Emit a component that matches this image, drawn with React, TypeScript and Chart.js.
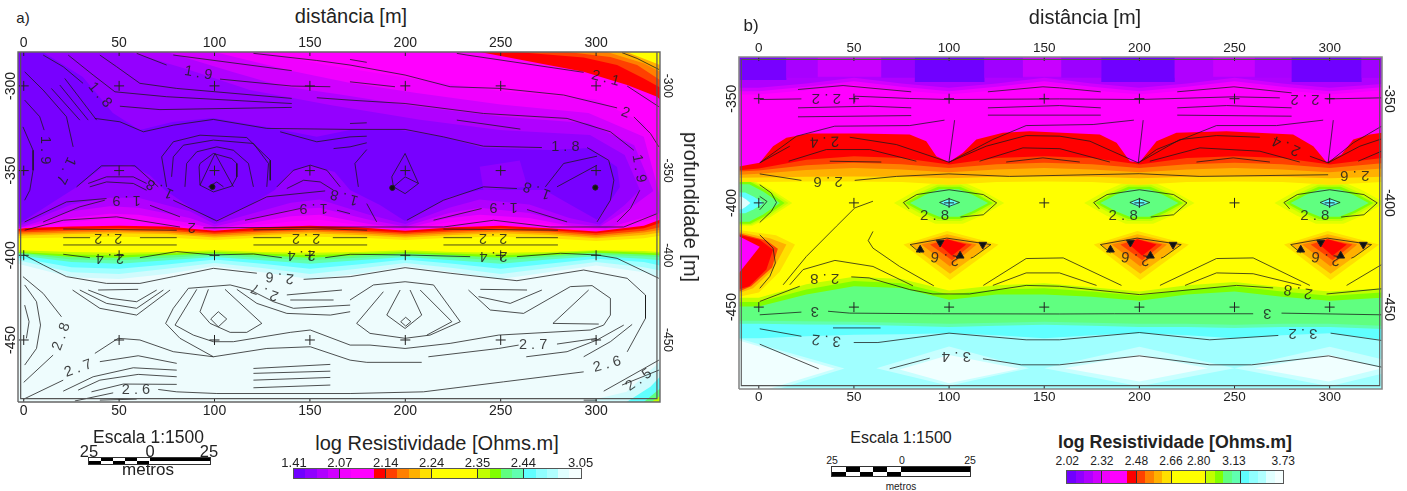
import React, { useEffect, useRef } from "react";
import { Chart, registerables } from "chart.js";
Chart.register(...registerables);

type P = number[];
const FONT = "'Liberation Sans', Arial, sans-serif";
const tickX = [0, 50, 100, 150, 200, 250, 300];

// ---------- shared colour scale ----------
const legendColors = ["#7000ff","#9000ff","#b000ff","#d000ff","#f000ff","#ff00ff","#ff00ff","#ff0000","#ff4000","#ff8000","#ffb000","#ffe000","#ffff00","#ffff00","#ffff00","#ffff00","#c0ff00","#80ff00","#60ff80","#60ffb0","#60ffff","#90ffff","#b0ffff","#e0ffff","#f5ffff"];
const legendLabelsA = ["1.41","2.07","2.14","2.24","2.35","2.44","3.05"];
const legendLabelsB = ["2.02","2.32","2.48","2.66","2.80","3.13","3.73"];

// ---------- panel a ----------
const rangeA = { xMin: -3, xMax: 333.5, yMin: -486.6, yMax: -280 };
const depthTicksA = [-300, -350, -400, -450];
const stationsA = [-3,25,50,75,100,125,150,175,200,225,250,275,300,325,333.5];
const bandD0 = [-405,-413,-414,-411,-406.5,-410,-414,-411,-406.5,-410,-414,-410,-406,-410,-413];
const bandA0 = [-403,-410,-411,-408,-404.5,-407.5,-411,-408,-404.5,-407.5,-411,-407.5,-404,-407,-409];
const bandCy = [-401.5,-407,-408,-405.5,-402.5,-405,-408,-405.5,-402.5,-405,-408,-405,-402,-404,-406];
const bandB0 = [-400,-404,-405,-403,-401,-403,-405,-403,-401,-403,-405,-402.5,-400.5,-402,-403];
const band80 = [-399,-402.5,-403,-401.5,-400,-401.5,-403,-401.5,-400,-401.5,-403,-401,-399.5,-400.5,-401];
const bandLi = [-398.5,-401,-401.5,-400,-399,-400,-401.5,-400,-399,-400,-401.5,-400,-398.5,-399.5,-400];
const bandC0 = [-398,-399.5,-400,-399,-398,-399,-400,-399,-398,-399,-400,-399,-397.5,-398.5,-399];
const bandYe = [-397,-398,-398.5,-398,-397,-398,-398.5,-398,-397,-398,-398.5,-398,-397,-397.5,-398];
const bandFE = [-390,-389.5,-389,-389.5,-391,-389.5,-389,-389.5,-391,-389.5,-389,-390,-391.5,-390,-388.5];
const bandFB = [-388.5,-387.5,-387,-387.5,-389.5,-388,-387,-388,-389.5,-388,-387,-388,-390,-388,-386.5];
const bandF8 = [-387.5,-386.5,-386,-386.5,-388.5,-387,-386,-387,-388.5,-387,-386,-387,-389,-386.5,-385];
const bandF4 = [-386.5,-385.5,-385,-385.5,-387.5,-386,-385,-386,-387.5,-386,-385,-386,-388,-385.5,-383.5];
const bandRe = [-385.5,-384.5,-384,-384.5,-386.5,-385,-384,-385,-386.5,-385,-384,-385,-387,-384,-381];
const bandMa = [-384,-383,-382.5,-383,-385.5,-383.5,-382.5,-383.5,-385.5,-383.5,-382.5,-384,-386,-382.5,-379];
const purpleF0: P[] = [[-3,-280],[125,-280],[160,-288],[205,-296],[250,-303],[300,-308],[325,-322],[333.5,-340],[333.5,-378],[305,-385],[286,-383],[265,-380.5],[239,-379],[223,-380.5],[200,-385],[181,-383],[155,-379],[140,-380],[100,-385],[87,-383],[60,-379],[45,-378.5],[25,-380.5],[-3,-384.5]];
const purpleD0: P[] = [[-3,-280],[100,-280],[140,-291],[170,-298],[205,-304],[250,-311],[296,-316],[325,-330],[333.5,-365],[333.5,-375],[305,-384],[286,-382.5],[265,-378],[239,-376],[223,-378],[200,-384],[181,-381.5],[155,-376],[140,-377],[100,-384.5],[87,-381],[60,-376],[45,-375.5],[25,-378],[-3,-384]];
const purpleB0: P[] = [[-3,-280],[75,-280],[110,-292],[135,-300],[165,-305],[205,-312],[250,-318],[296,-322],[320,-335],[330,-362],[318,-372],[302,-383],[286,-381],[265,-375],[239,-372],[223,-375],[200,-383],[181,-379],[155,-372],[140,-373],[100,-383],[87,-378],[60,-372],[45,-371],[25,-374],[-3,-384]];
const purple94: P[] = [[-3,-280],[55.6,-280],[87,-290.6],[118.5,-302.4],[160.5,-311.3],[207.7,-320],[249.6,-326],[296.8,-329],[315,-340.8],[323,-361.4],[315,-370.3],[302,-382],[286,-378],[265,-370],[239,-367],[223,-372],[200,-381.5],[181,-376],[155,-367],[140,-369],[100,-381.5],[87,-374],[60,-366],[45,-366],[25,-370],[-3,-383]];
const purple78: P[] = [[-3,-280],[10,-280],[31,-294.8],[46.7,-316],[60.8,-326],[78,-321.3],[99,-319],[127.4,-324.3],[153.6,-330],[171,-326],[197,-326],[219.7,-330],[240.7,-336.6],[275.8,-337.8],[296.8,-336.6],[311,-347.9],[312.5,-359.7],[300.5,-379],[286.3,-370],[273,-361.4],[239,-361.4],[223.4,-365.6],[199.8,-379.7],[186.7,-370.3],[171,-361.4],[163,-350.8],[150,-346.7],[139.5,-350.8],[131.6,-361.4],[118.5,-370.3],[99.6,-379.7],[87,-371.5],[74,-361.4],[66,-352.6],[55.6,-346.7],[41.4,-347.9],[27.8,-359.7],[-.5,-380],[-3,-382]];
const patchA: P[] = [[239,-347.7],[260,-344],[264,-359.6],[241,-361.6]];
const cornerTR: { c: string; p: P[] }[] = [
  { c: "#ff0000", p: [[239,-280],[293.5,-291.7],[316.3,-299.5],[332,-306.4],[333.5,-308],[333.5,-280]] },
  { c: "#ff4000", p: [[258.5,-280],[293.5,-283.2],[311,-287.7],[325,-295.6],[333.5,-301],[333.5,-280]] },
  { c: "#ff8000", p: [[285,-280],[307.5,-283],[321.5,-287.7],[333.5,-296.6],[333.5,-280]] },
  { c: "#ffb000", p: [[305.7,-280],[325,-286.7],[333.5,-291.6],[333.5,-280]] },
  { c: "#ffff00", p: [[316,-280],[333.5,-287.7],[333.5,-280]] },
];
const cornerBR: { c: string; p: P[] }[] = [
  { c: "#d0fbfd", p: [[293.5,-486.6],[316,-480.6],[333.5,-462.8],[333.5,-486.6]] },
  { c: "#60ffff", p: [[316,-486.6],[328.5,-477.6],[333.5,-471.7],[333.5,-486.6]] },
  { c: "#60ff80", p: [[325,-486.6],[333.5,-478.6],[333.5,-486.6]] },
  { c: "#c0ff00", p: [[329,-486.6],[333.5,-483],[333.5,-486.6]] },
];
const contoursA: P[][] = [
  [[.5,-291.7],[10.2,-302.5],[22.4,-318.2],[25.9,-336]],
  [[.5,-308.4],[8.4,-318.2],[10.7,-326.1]],
  [[-.4,-324.2],[4.9,-338],[4.9,-349.8],[3.2,-361.6],[.5,-367.5]],
  [[14.5,-301.5],[29.4,-320.2]],[[18.9,-299.5],[33.8,-320.2]],[[21.5,-295.6],[38.2,-320.2]],
  [[10.2,-281.8],[20.7,-288.7],[31.1,-298.5]],
  [[102.9,-296],[140.5,-300.1],[160.7,-300.5]],
  [[39.9,-281.8],[48.7,-288.7],[60.9,-298.5],[80.2,-301.5],[140.5,-307.4]],
  [[23.3,-281.8],[36.4,-293.6],[47.8,-303.5],[74.9,-306.4],[140.5,-310.4]],
  [[50.4,-312],[71.4,-314],[140.5,-312.7]],
  [[37.3,-319.2],[50.4,-321.2],[62.7,-327.1],[78.4,-323.2],[99.4,-319.8],[127.4,-325.1],[171,-325.7],[199.9,-325.7],[220,-330.1],[241,-335.6],[271.6,-336.4]],
  [[295.3,-336.4],[306.6,-343.9],[309.3,-355.7],[307.5,-367.5],[300.5,-380.3]],
  [[59.2,-280.8],[74.9,-287.7]],[[78.4,-281.8],[140.5,-291]],
  [[120.4,-280.8],[153.6,-285],[171,-287.7],[199.9,-293.6],[223.5,-300.5],[249.8,-301.5],[283,-305.4],[311,-313]],
  [[319.8,-318.3],[328.5,-328.1],[332.9,-336]],
  [[171,-297.6],[194.6,-300.5]],[[171,-284.4],[179.8,-286.1]],
  [[153.6,-307],[171,-308.4],[199.9,-310.4],[241,-316.3],[284.8,-319.2],[307.5,-327.1],[319.8,-338]],
  [[322.9,-361.6],[318,-372.4],[311,-380.3]],
  [[171,-322.2],[179.8,-321.8]],[[227,-320.2],[260.3,-325.5]],
  [[134.4,-327.1],[153.6,-333],[171,-330.1],[179.8,-329.7]],
  [[162.4,-337],[171,-336],[179.8,-333.6]],
  [[227,-280.8],[232.3,-281.8],[293.5,-292]],[[316.3,-300.1],[332.9,-312.3]],
  [[313.6,-280.4],[321.5,-283.8],[332.9,-290.3]],
  [[27.7,-359.6],[40.8,-347.2],[58.3,-347.2],[70.5,-359.6]],
  [[33.8,-357.6],[43.4,-353.7],[57.4,-353.7],[64.4,-357.6]],
  [[34.6,-359.6],[43.4,-356.7],[57.4,-357.6],[64.4,-361.6]],
  [[.5,-380.3],[22.4,-368.5],[43.4,-366.5]],
  [[66.2,-370.5],[81.9,-377.3]],
  [[10.2,-380.3],[29.4,-371.4],[42.5,-367.5]],
  [[.5,-385.2],[20.7,-379.3],[48.7,-377.3],[81.9,-383.3]],
  [[94.2,-383.8],[171,-383.3],[220,-383.3],[246.3,-379.3],[276,-383.3],[314.5,-383.3],[332,-375.4]],
  [[78.4,-367.5],[101.2,-379.7],[127.4,-365.5],[158,-362]],
  [[116,-379.3],[144.9,-372.4]],[[164.2,-373.4],[171,-375.4]],[[179.8,-369.5],[185,-380.3]],
  [[200.8,-379.3],[220,-367.5],[241,-359.6],[258.5,-360.6]],
  [[214.8,-379.3],[240,-372.4]],[[263.8,-373],[284.8,-380.3]],
  [[92.4,-345.8],[99.4,-339.9],[109,-342.9],[111.7,-345.8],[111.7,-353.7],[109,-359.2],[99.4,-362.6],[92.4,-358.6],[91.9,-347.8],[92.4,-345.8]],
  [[92.4,-358.6],[100.3,-339.9],[109.9,-359.6]],
  [[96.8,-359.6],[101.2,-356.7],[104.7,-359.6]],
  [[84.5,-359.6],[85.4,-345.8],[90.7,-338.9],[101.2,-336],[109.9,-338],[117.8,-345.8],[120.4,-359.6]],
  [[77.5,-353.7],[78.4,-341.9],[83.7,-335],[99.4,-332],[120.4,-334],[128.3,-345.8],[127.4,-359.6]],
  [[74.9,-359.6],[72.3,-341.9],[78.4,-333],[92.4,-329.1],[116.9,-330.5],[129.2,-343.9],[129.2,-355.7]],
  [[132.7,-359.6],[141.4,-349.8],[150.2,-346.8],[158.9,-349.8],[165.9,-359.6]],
  [[137.9,-360.6],[146.7,-355.7],[155.4,-356.7],[162.4,-361.6]],
  [[193.8,-359.6],[192.9,-353.7],[199.9,-339.9],[206.9,-357.6],[199.9,-363.6],[193.8,-359.6],[199.9,-353.7],[206.9,-357.6]],
  [[179.8,-337.6],[173.6,-345.8],[175.4,-359.6]],
  [[273.4,-359.6],[283,-345.8],[300.5,-341.5]],[[279.5,-359.6],[300.5,-346.8]],
  [[20.7,-384.5],[80.2,-385.2]],[[20.7,-389.6],[34.8,-389.6]],[[60.9,-389.6],[80.2,-389.6]],[[20.7,-393.9],[80.2,-393.9]],
  [[120.4,-385],[160.7,-384.5],[180,-385.2]],[[120.4,-389.6],[135,-389.6]],[[162,-389.6],[180,-389.6]],[[120.4,-393.9],[180,-393.9]],
  [[220,-384.5],[280,-385.2]],[[220,-389.6],[235,-389.6]],[[258,-389.6],[280,-389.6]],[[220,-393.9],[280,-393.9]],
  [[20.7,-399.4],[34.7,-401.4]],
  [[60.9,-401.4],[80.2,-397.8],[99.4,-399.8],[120.4,-399.2],[135.3,-401.4]],
  [[158,-401.4],[171.1,-399.4],[199.9,-399.8],[234,-400.8]],
  [[258.5,-400.8],[281.3,-398.8],[300.5,-399.8],[311,-401.8],[332.9,-413.6]],
  [[.3,-399.8],[10.2,-405.7],[22.4,-412.6],[43.4,-416.6],[60.9,-416.6],[78.4,-412.6],[99.4,-407.7],[122.2,-410.6]],
  [[146.7,-414.2],[171.1,-412.6],[199.9,-407.3],[223.5,-410.6],[258.5,-415],[293.5,-408.7],[316.3,-413.6],[325.9,-423.5],[325.9,-437.2],[316.3,-457]],
  [[-.4,-412.6],[10.2,-422.5],[19.8,-436.3]],
  [[.5,-417.5],[6.7,-427.4],[8.8,-441.2],[6.7,-455],[.5,-464.8]],
  [[.5,-429.4],[2.8,-439.2],[1.4,-449]],
  [[25.6,-420.5],[39.9,-431.3],[59.2,-435.3],[76.7,-420.5]],
  [[29.4,-420.5],[43.4,-428.4],[59.2,-431.3],[73.2,-420.5]],
  [[33.8,-420.5],[45.2,-425.4],[59.2,-427.4],[69.7,-420.5]],
  [[39,-420.5],[60,-420.1]],
  [[37.3,-457.9],[49.5,-449],[60.9,-450],[78.4,-456.9],[99.4,-459.9],[127.4,-455],[150.2,-454],[171.1,-461.9],[179.8,-463.2],[208.6,-463.2]],
  [[118.7,-420.5],[108.2,-417.5],[86.3,-419.5],[78.4,-431.3],[74.4,-440.2],[81.9,-449],[99.4,-459.9]],
  [[90.7,-420.1],[79.3,-441.2],[88.9,-447.1],[99.4,-451],[109.9,-451],[139.7,-445.5],[150.2,-444.1],[171.1,-453],[181.5,-453],[199.9,-455],[223.5,-452],[248.9,-447.1],[297,-444.1],[304,-441.2],[307.5,-435.3],[307.5,-425.4],[297.9,-417.9],[286.5,-418.5],[262,-434.3],[244.5,-432.3],[233.1,-420.5]],
  [[96.8,-420.1],[92.4,-433.3],[97.7,-440.2],[108.2,-445.5],[116.9,-445.5],[124.8,-440.2],[105.5,-420.1]],
  [[98,-437.6],[102,-433.3],[106.4,-437.6],[102,-442.2],[98,-437.6]],
  [[111.7,-420.1],[122.2,-428.4],[137.9,-434.3],[160.7,-435.3],[171.1,-433.3]],
  [[171,-426.4],[183.3,-417.5],[199.9,-415.6],[214.8,-417.5],[228.8,-439.2],[213,-447.1],[199.9,-449],[181.5,-446.1],[174.5,-440.2],[188.5,-421.5]],
  [[118.7,-420.5],[130.9,-427.4],[141.4,-431.3],[171.1,-429.4]],
  [[137.9,-423.4],[166.8,-420.5]],[[139.7,-426.4],[162.4,-426.4]],
  [[197.3,-420.5],[190.3,-435.3],[199.9,-443.2],[208.6,-435.3],[202.5,-420.5]],
  [[197.6,-439.2],[200.2,-436.6],[202.9,-439.2],[200.2,-441.8],[197.6,-439.2]],
  [[207.8,-420.5],[224.4,-439.2],[211.3,-447.1]],
  [[296.1,-420.5],[277.4,-440.2],[301.4,-440.6]],
  [[239.3,-420.1],[263.8,-420.5]],[[238.4,-424.4],[255,-428.4],[271.6,-420.5]],
  [[212.1,-459.9],[248.9,-455],[259.4,-453]],
  [[263.4,-459.9],[284.8,-456.9],[300.5,-450],[314.5,-441.2]],
  [[279.5,-452.4],[300.5,-449]],
  [[293.5,-459.9],[307.5,-451],[318.9,-440.8]],
  [[39.9,-462.8],[60,-459.3],[80.2,-463.8]],
  [[20.7,-480.2],[36.4,-471.7],[57.4,-466.4],[80.2,-467.8]],
  [[28.5,-479.6],[39.9,-473.7],[60,-470.3],[80.2,-471.7]],
  [[35.5,-480.6],[52.2,-476],[80.2,-476.2]],
  [[26.8,-486],[46.9,-481.2]],
  [[70.5,-479.2],[80.2,-480.6],[101.2,-481.6],[171.1,-481.6],[209.5,-480.6],[251.5,-474.7],[293.5,-468.8]],
  [[304,-480.2],[332.9,-461.9]],[[313.6,-476.6],[332.9,-467.8]],
  [[0,-475],[15.4,-458.9]],[[0,-484.9],[20.7,-473.7]],
  [[39.9,-485.5],[59.2,-484.9]],[[293.5,-485.5],[300.5,-485.5]],
  [[120.4,-466.8],[160.7,-464.4]],[[120.4,-469.7],[160.7,-468.4]],[[120.4,-473.7],[160.7,-472.1]],[[120.4,-478.2],[160.7,-476.6]],
];
const blobsA: P[] = [[98.9,-359.6],[193.2,-360.2],[299.6,-360]];
type Lab = [string, number, number, number];
const labelsA: Lab[] = [
  ["1 . 9",91.5,-292.6,10],["1 . 8",39.9,-305.4,50],["1 . 9",11.4,-337.9,90],["1 . 7",22,-350,115],
  ["1 . 9",53.9,-367.4,180],["1 . 8",71.4,-360.6,205],["2",88,-383.2,180],["2 . 2",44.3,-389.6,180],
  ["2 . 2",148,-389.6,180],["2 . 2",246,-390,180],["1 . 9",151.9,-371.8,180],["1 . 9",251.5,-371.4,180],
  ["1 . 8",168,-365.5,195],["1 . 8",269,-361.5,200],["2 . 1",304.9,-295.6,15],["2",315.4,-315.9,20],
  ["1 . 9",322.4,-348.8,80],["1 . 8",283.9,-336,0],["2 . 4",45.1,-401.4,180],["2 . 4",145.6,-399.8,180],
  ["2 . 4",246.2,-400.2,180],["2 . 6",134.2,-413,185],["2 . 7",126.4,-421.5,200],["2 . 8",19.7,-448,-70],
  ["2 . 7",28.5,-466.8,-20],["2 . 6",58.8,-479.5,0],["2 . 7",267,-453,0],["2 . 6",305.8,-464.4,-15],["2 . 5",322.4,-473.6,-35],
];

// ---------- panel b ----------
const rangeB = { xMin: -10.4, xMax: 327.5, yMin: -489.3, yMax: -330 };
const depthTicksB = [-350, -400, -450];
const stationsB = [-10.5,0,25,50,75,100,125,150,175,200,225,250,275,300,327.5];
const bCy = [-465,-465,-464,-463.3,-463,-462.5,-463.5,-465,-463.5,-462.5,-463.5,-465,-463.5,-462.5,-465.7];
const bB0 = [-458,-458,-458.3,-458.5,-459,-459.5,-459,-458.5,-459,-459.5,-459.5,-460,-459.5,-459.5,-460.5];
const b80 = [-456.5,-456.5,-456.8,-457,-457.5,-458,-457.5,-457,-457.5,-458,-458,-458.5,-458,-458,-459];
const bLi = [-449.7,-449.7,-444,-440,-440.8,-446.5,-444,-444,-445,-447,-444,-442.5,-445,-447,-445.5];
const bC0 = [-447.5,-447.5,-441.5,-437.5,-438.5,-444,-441.5,-441,-442.5,-444.5,-441.5,-440,-442.5,-444.5,-443];
const bYe = [-445.5,-445.5,-439,-435.5,-436.5,-442,-439.5,-438.5,-440.5,-442.5,-439.5,-438,-440.5,-442.5,-441];
const bFE = [-390,-390,-389.7,-389.7,-390,-391.3,-390,-389.7,-390,-391.3,-390,-389.7,-390,-391.3,-390];
const bFB = [-388,-387.8,-387.5,-387.3,-387.5,-388.2,-387.5,-387.3,-387.5,-388.2,-387.5,-387.3,-387.5,-388.2,-387.5];
const bF8 = [-386.5,-386,-384.2,-383.3,-384,-385.3,-384,-383.3,-384,-385.3,-384,-383.3,-384,-385.3,-383.5];
const bF4 = [-384.9,-384.5,-382,-380.8,-381.5,-383.3,-381.5,-380.8,-381.5,-383.3,-381.5,-380.8,-381.5,-383.3,-381];
const bRe = [-384.4,-383.5,-379.3,-377.6,-378.5,-381.6,-378.5,-377.6,-378.5,-381.6,-378.5,-377.6,-378.5,-381.6,-378.5];
const redTopB: P[] = [[-10.5,-382.5],[.5,-380.8],[7.5,-372.8],[14.5,-368.8],[26.8,-366.7],[53,-366.7],[79.3,-367.2],[88,-370.4],[93.3,-377.6],[99.9,-380.5],[107.3,-376],[114.3,-369.6],[128.3,-366.4],[142.3,-365.6],[179.2,-367.2],[188,-371.2],[195,-380],[199.9,-380.8],[209,-370.4],[219.5,-366.4],[245.8,-365.6],[280.8,-367.2],[291.4,-372.8],[298.4,-380.5],[306.2,-376.8],[312.4,-369.6],[321.1,-367.2],[327.5,-366.4]];
const topStationsB = [-10.5,0,25,50,75,100,125,150,175,200,225,250,275,300,327.5];
const bF0 = [-348,-348,-345.9,-343.2,-345.9,-348,-345.9,-343.2,-345.9,-348,-345.9,-343.2,-345.9,-348,-346];
const bD0 = [-346.4,-346.4,-344.3,-341.6,-344.3,-346.4,-344.3,-341.6,-344.3,-346.4,-344.3,-341.6,-344.3,-346.4,-344.5];
const bB00 = [-344.8,-344.8,-342.7,-340,-342.7,-344.8,-342.7,-340,-342.7,-344.8,-342.7,-340,-342.7,-344.8,-343];
const blockStart = [-10.5,14.5,31,64.4,82,118.6,138.8,159,180,218.6,238.8,260.7,280,316.8];
const blockEnd = [14.5,31,64.4,82,118.6,138.8,159,180,218.6,238.8,260.7,280,316.8,327.5];
const blockColor = ["#7800ff","#a800ff","#c800ff","#9800ff","#7000ff","#a000ff","#c800ff","#9c00ff","#7000ff","#b000ff","#c800ff","#a800ff","#7000ff","#a000ff"];
const blockDepth = [-341,-340,-339.5,-340,-342,-340,-339.5,-340,-342,-340,-339.5,-340,-342,-340];
const periodCentres = [100, 200, 300];
const whiteDiamonds: P[][] = [
  [[-10.5,-466],[40,-479.6],[5,-489.3],[-10.5,-489.3]],
  [[74,-480],[100,-473],[137,-479.6],[100,-486.5]],
  [[160.8,-479.3],[200,-472.9],[236,-479.3],[200,-485.7]],
  [[260.7,-479.3],[299.4,-472.9],[327.5,-479.3],[299.4,-485.7]],
];
const paleDiamonds: P[][] = [
  [[-10.5,-465],[45,-479.5],[10,-489.3],[-10.5,-489.3]],
  [[61.8,-479.3],[100,-468.9],[142,-479.3],[100,-487.7]],
  [[150,-479.3],[200,-469],[250,-479.3],[200,-488]],
  [[250,-479.3],[300,-469],[327.5,-475],[327.5,-482],[300,-488]],
];
// lens half-sizes around the low-resistivity eyes: colour, half width, half height
const eyeLevels: [string, number, number][] = [["#e0ff00",29,10],["#c0ff00",25,8.7],["#80ff00",23,7.7],["#60ff80",20.5,6.6]];
const lensShape: P[] = [[-1,0],[-.6,.6],[-.25,1],[.25,1],[.6,.6],[1,0],[.6,-.6],[.25,-1],[-.25,-1],[-.6,-.6]];
const leftEye: [string, number, number][] = [["#e0ff00",28,11],["#c0ff00",26,10.5],["#80ff00",24,10],["#60ff80",21.5,9],["#60ffff",13,5],["#e0ffff",6,3]];
const blobLevels: { c: string; p: P[] }[] = [
  { c: "#ffe000", p: [[-24,-420],[-1,-413.5],[26,-420],[.5,-437]] },
  { c: "#ffb000", p: [[-20.5,-420],[-1,-415],[22,-420],[.5,-434]] },
  { c: "#ff8000", p: [[-14.5,-420],[-1,-416.8],[14.5,-420],[.5,-430.5]] },
  { c: "#ff4000", p: [[-10,-420],[-1,-417.5],[12,-420],[1.5,-427.5]] },
  { c: "#ff0000", p: [[-6.5,-419],[-1,-417.5],[9,-420],[1.5,-425.4]] },
];
const leftBlob: { c: string; p: P[] }[] = [
  { c: "#ffe000", p: [[-10.5,-413],[9,-415.5],[19,-420],[11,-433],[0,-443],[-10.5,-445]] },
  { c: "#ffb000", p: [[-10.5,-414],[5.8,-417],[14.5,-420],[7.5,-432],[-3,-441],[-10.5,-443.3]] },
  { c: "#ff4000", p: [[-10.5,-414.5],[4,-418],[10,-422],[7,-431],[-4,-440],[-10.5,-442.5]] },
  { c: "#ff0000", p: [[-10.5,-415.3],[.5,-417.7],[7.5,-422.5],[4,-432],[-5,-440],[-10.5,-441.5]] },
  { c: "#ff00ff", p: [[-10.5,-416],[.5,-421],[-10.5,-433.7]] },
];
const motifLines: P[][] = [
  [[-24,-399.8],[-17,-396],[0,-393.7],[18,-396],[25,-400],[18,-405.7],[6,-406.8]],
  [[-24,-399.8],[-21,-402.9]],
  [[-5,-399.8],[0,-398],[5.5,-399.8],[0,-401.7],[-5,-399.8]],
  [[-20.5,-420],[-1.2,-416.9],[22,-420],[12.8,-426],[11.4,-426.5]],
  [[-20.5,-420],[-15.2,-424]],
];
const motifArrows: P[] = [[-4.7,-419],[-15.2,-422.5],[5.8,-425.4],[17.7,-420]];
const arrowAngle = [180, 0, 0, 180];
const contoursB: P[][] = [
  [[.5,-350.4],[22.4,-350.1]],
  [[50.4,-351.7],[50.4,-348.8],[79.3,-349.9],[99.9,-350.4],[158,-350.1],[199.9,-350.4],[249.7,-349.1],[273.8,-349.6]],
  [[298.4,-350.1],[327.3,-349.6]],
  [[20.6,-345.6],[44.3,-343.7],[80.1,-346.7]],[[20.6,-354.4],[58.3,-353.6],[80.1,-354.4]],[[20.6,-358.7],[80.1,-358.1]],
  [[120.4,-346.7],[149.3,-344.3],[158,-344.8],[179.7,-346.7]],[[120.4,-354.4],[158,-353.3],[179.7,-354.4]],[[120.4,-357.9],[179.7,-357.9]],
  [[219.9,-346.7],[249.7,-344.3],[280,-347.2]],[[219.9,-354.4],[245.8,-353.3],[280,-354.4]],[[219.9,-357.9],[280,-358.4]],
  [[.5,-380.8],[19.8,-368],[39.9,-363.2],[79.3,-362.9],[97.6,-360.3]],
  [[102.9,-360.3],[99.9,-380.5],[123,-369.6],[140.5,-362.9],[175.7,-362.4],[197.1,-360.3]],
  [[202,-360.3],[199.4,-380.8],[209,-374.4],[240.5,-362.9],[272.1,-362.9],[296.6,-360.3]],
  [[301.9,-360.3],[299.2,-380.8],[312.4,-371.2],[327.3,-363.2]],
  [[.5,-380.8],[16.3,-372.8]],
  [[47.8,-368.5],[72.3,-372],[99.9,-380.5],[119.5,-372.8],[140.5,-367.7],[158.2,-368],[174,-370.4],[199.4,-380.8],[221.3,-369.6],[240.5,-367.7],[263.3,-368.5]],
  [[289.6,-377.6],[299.2,-380.8],[315.9,-372.8],[327.3,-369.3]],
  [[15.7,-380],[35.5,-374.4],[58.3,-374.4],[82.8,-380]],
  [[116,-380],[138.8,-373.6],[158.2,-374],[184.5,-380.4]],
  [[205.5,-380],[231.8,-373.6],[263.3,-375.2],[284.3,-380.4]],
  [[315,-380],[327.3,-375.2]],
  [[37.3,-380],[64.4,-380.4]],[[130,-380.4],[149.3,-378.4],[168.7,-380.4]],[[230,-380.4],[249.3,-378.4],[268.6,-380.4]],
  [[.5,-386.1],[22.4,-389.2]],
  [[50.4,-389.2],[72.3,-387.3],[99.9,-386.1],[131.8,-387.3],[199.9,-386],[231.8,-387.3],[299.2,-386.5]],
  [[.5,-391.3],[6.6,-395.3],[9.3,-399.8],[6.6,-404.1],[.5,-409.4]],
  [[.5,-396.9],[4.3,-399.3],[.5,-403.3]],
  [[60,-399.2],[50.5,-402.4],[40.8,-411.2],[25,-425.7],[12.8,-439.3]],
  [[.5,-415.3],[7.5,-421.7],[8.7,-428.9],[5.8,-435.3],[.5,-441]],
  [[16.3,-439.3],[23.3,-432],[40,-427.6],[60,-430.5],[81,-439.8]],
  [[60,-413.7],[57.5,-418.1],[60,-421.7],[74,-430.5],[92,-439.8]],
  [[118,-439.6],[140.5,-426.7],[160,-426.4],[190.6,-439.6]],
  [[210.8,-439.6],[240.5,-426.7],[259.8,-426.4],[289.6,-439.6]],
  [[123,-439.6],[140.5,-433.6],[158,-433.6],[177.5,-439.6]],
  [[224,-439.6],[240.5,-433.6],[259.8,-434],[285,-439.6]],
  [[.5,-447.3],[21.5,-440]],
  [[48.6,-435.5],[58,-436],[79.3,-441.6],[91.5,-443.7],[110.8,-443.7],[140.5,-439.6],[158,-440],[200,-444],[251,-439.6],[270.3,-440.8]],
  [[298.4,-443.7],[327.3,-441.2]],[[308.9,-439.6],[327.3,-429.6]],
  [[.5,-453.7],[22.4,-452.4]],[[36.4,-452],[47.8,-452.9],[90.6,-453.2],[158,-453.3],[187,-453.2],[259.8,-453.2]],[[274.7,-452.9],[327.3,-453.7]],
  [[39,-460],[64,-460]],
  [[.5,-460.4],[22.4,-464]],
  [[49.9,-467],[62.6,-467],[100,-462.5],[140.5,-465.7],[158,-465.7],[200,-462.2],[237,-465.7],[273,-463.6]],
  [[300.5,-462.5],[327.3,-466]],
  [[.5,-467.8],[31.5,-479.6]],[[68.8,-479.6],[89.8,-474.5]],
  [[117.8,-474.8],[137.9,-477.7],[158,-477.7],[200,-473.4],[237,-477.7],[259,-477.7],[299.4,-473.4],[327.3,-478.8]],
];
const labelsB: Lab[] = [
  ["2 . 2",35.5,-349.6,180],["2 . 2",287,-350.4,180],["2 . 4",34.6,-370.4,178],["2 . 4",277.3,-372.5,205],
  ["2 . 6",36.4,-389.7,180],["2 . 6",313.2,-386.5,180],["2 . 8",92.4,-406.2,0],["2 . 8",191.5,-406.2,0],["2 . 8",292.2,-406.2,0],
  ["2 . 6",98,-426.5,190],["2 . 6",198,-426.5,190],["2 . 6",298,-426.5,190],["2 . 8",34.6,-436,180],["2 . 8",283.5,-442.4,190],
  ["3",29.4,-452,180],["3",267.2,-452.9,180],["3 . 2",35.5,-465.7,185],["3 . 2",286,-462.5,180],["3 . 4",103.8,-473.7,180],
];

// ---------- helpers that assemble library datasets ----------
const xy = (a: P[]) => a.map(([x, y]) => ({ x, y }));
const above = (st: number[], ys: number[], top: number): P[] => [...st.map((x, i) => [x, ys[i]]), [st[st.length - 1], top], [st[0], top]];
const lens = (cx: number, cy: number, w: number, h: number): P[] => lensShape.map(([a, b]) => [cx + a * w, cy + b * h]);
const shift = (a: P[], dx: number): P[] => a.map(([x, y]) => [x + dx, y]);
const area = (c: string, p: P[]) => ({ data: xy(p), showLine: true, fill: "shape", backgroundColor: c, borderWidth: 0, borderColor: c, pointRadius: 0, tension: 0 });
const line = (p: P[], w = 0.9, c = "rgba(25,25,25,.85)") => ({ data: xy(p), showLine: true, fill: false, borderColor: c, borderWidth: w, pointRadius: 0, tension: 0 });
const rect = (x0: number, x1: number, y0: number, y1: number): P[] => [[x0, y0], [x1, y0], [x1, y1], [x0, y1]];
const grid = (xs: number[], ys: number[]): P[] => ys.flatMap((y) => xs.map((x) => [x, y]));
const marks = (p: P[], style: string, r: number, extra: object = {}) => ({ data: xy(p), showLine: false, pointStyle: style, pointRadius: r, borderColor: "#222", backgroundColor: "#111", pointBorderWidth: 1, ...extra });

const datasetsA = () => {
  const R = rangeA, top = R.yMax;
  const ds: any[] = [area("#eefcfd", rect(R.xMin, R.xMax, R.yMin, R.yMax))];
  const bands: [string, number[]][] = [["#d0fbfd",bandD0],["#a0ffff",bandA0],["#60ffff",bandCy],["#60ffb0",bandB0],["#60ff80",band80],["#80ff00",bandLi],["#c0ff00",bandC0],["#ffff00",bandYe],["#ffe000",bandFE],["#ffb000",bandFB],["#ff8000",bandF8],["#ff4000",bandF4],["#ff0000",bandRe],["#ff00ff",bandMa]];
  bands.forEach(([c, y]) => ds.push(area(c, above(stationsA, y, top))));
  ds.push(area("#f000ff", purpleF0), area("#d000ff", purpleD0), area("#b000ff", purpleB0), area("#9400ff", purple94), area("#7800ff", purple78), area("#9000ff", patchA));
  cornerTR.forEach((k) => ds.push(area(k.c, k.p)));
  cornerBR.forEach((k) => ds.push(area(k.c, k.p)));
  contoursA.forEach((c) => ds.push(line(c)));
  ds.push(marks(blobsA, "circle", 2.6));
  ds.push(marks(grid(tickX, depthTicksA), "cross", 5));
  ds.push(marks(tickX.map((x) => [x, R.yMax]), "line", 4, { pointRotation: 90 }));
  ds.push(marks(tickX.map((x) => [x, R.yMin]), "line", 4, { pointRotation: 90 }));
  ds.push({ ...line([[R.xMin + 1.4, R.yMax], [R.xMin + 1.4, R.yMin + 2], [R.xMax - 1.6, R.yMin + 2], [R.xMax - 1.6, R.yMax]], 1.2, "#555") });
  ds.push({ ...line([...rect(R.xMin, R.xMax, R.yMin, R.yMax), [R.xMin, R.yMin]], 1.4, "#666"), clip: false });
  return ds;
};
const datasetsB = () => {
  const R = rangeB, top = R.yMax;
  const ds: any[] = [area("#a0ffff", rect(R.xMin, R.xMax, R.yMin, R.yMax))];
  paleDiamonds.forEach((p) => ds.push(area("#c8ffff", p)));
  whiteDiamonds.forEach((p) => ds.push(area("#f0ffff", p)));
  const bands: [string, number[]][] = [["#60ffff",bCy],["#60ffb0",bB0],["#60ff80",b80],["#80ff00",bLi],["#c0ff00",bC0],["#ffff00",bYe]];
  bands.forEach(([c, y]) => ds.push(area(c, above(stationsB, y, top))));
  eyeLevels.forEach(([c, w, h]) => periodCentres.forEach((cx) => ds.push(area(c, lens(cx, -400, w, h)))));
  leftEye.forEach(([c, w, h]) => ds.push(area(c, lens(-10.4, -400, w, h))));
  periodCentres.forEach((cx) => ds.push(area("#60ffff", lens(cx, -400, 4.5, 1.6))));
  periodCentres.forEach((cx) => blobLevels.forEach((k) => ds.push(area(k.c, shift(k.p, cx)))));
  leftBlob.forEach((k) => ds.push(area(k.c, k.p)));
  const upper: [string, number[]][] = [["#ffe000",bFE],["#ffb000",bFB],["#ff8000",bF8],["#ff4000",bF4],["#ff0000",bRe]];
  upper.forEach(([c, y]) => ds.push(area(c, above(stationsB, y, top))));
  ds.push(area("#ff00ff", [...redTopB, [327.5, top], [-10.5, top]]));
  ds.push(area("#f000ff", above(topStationsB, bF0, top)), area("#d000ff", above(topStationsB, bD0, top)), area("#b000ff", above(topStationsB, bB00, top)));
  blockStart.forEach((x0, i) => ds.push(area(blockColor[i], rect(x0, blockEnd[i], blockDepth[i], top))));
  contoursB.forEach((c) => ds.push(line(c)));
  periodCentres.forEach((cx) => motifLines.forEach((m) => ds.push(line(shift(m, cx)))));
  periodCentres.forEach((cx) => ds.push(marks(shift(motifArrows, cx), "triangle", 4.5, { pointRotation: arrowAngle })));
  ds.push(marks(grid(tickX, depthTicksB), "cross", 5));
  ds.push(marks(tickX.map((x) => [x, R.yMax]), "line", 4, { pointRotation: 90 }));
  ds.push(marks(tickX.map((x) => [x, R.yMin]), "line", 4, { pointRotation: 90 }));
  ds.push({ ...line([[R.xMin + 1.2, R.yMax - 1.2], [R.xMin + 1.2, R.yMin + 1.6], [R.xMax - 1.2, R.yMin + 1.6], [R.xMax - 1.2, R.yMax - 1.2], [R.xMin + 1.2, R.yMax - 1.2]], 1.1, "#555") });
  ds.push({ ...line([...rect(R.xMin, R.xMax, R.yMin, R.yMax), [R.xMin, R.yMin]], 1.6, "#888"), clip: false });
  return ds;
};

const labelPlugin = (labels: Lab[], size: number) => ({
  id: "contourLabels",
  afterDatasetsDraw(chart: any) {
    const { ctx, scales } = chart;
    ctx.save();
    ctx.font = `${size}px ${FONT}`;
    ctx.fillStyle = "rgba(30,30,30,.85)";
    ctx.textAlign = "center";
    ctx.textBaseline = "middle";
    labels.forEach(([t, x, y, r]) => {
      ctx.save();
      ctx.translate(scales.x.getPixelForValue(x), scales.y.getPixelForValue(y));
      ctx.rotate((r * Math.PI) / 180);
      ctx.fillText(t, 0, 0);
      ctx.restore();
    });
    ctx.restore();
  },
});

type Box = { l: number; r: number; t: number; b: number };
const build = (canvas: HTMLCanvasElement, datasets: any[], R: any, depth: number[], box: Box, labels: Lab[], o: any) => {
  const fitV = (w: number) => (s: any) => { s.width = w; };
  const fitH = (h: number) => (s: any) => { s.height = h; };
  const xTicks = (pad: number) => ({ stepSize: 50, includeBounds: false, autoSkip: false, maxRotation: 0, minRotation: 0, padding: pad, color: "#222", font: { family: FONT, size: o.xSize } });
  const yTicks = (rot: number, pad: number, size: number) => ({ callback: (v: number) => (depth.includes(v) ? String(v) : ""), stepSize: 50, includeBounds: false, autoSkip: false, minRotation: rot, maxRotation: rot, crossAlign: "center", padding: pad, color: "#222", font: { family: FONT, size } });
  const hidden = { display: false, drawTicks: false };
  return new Chart(canvas, {
    type: "scatter",
    data: { datasets: datasets.map((d, i) => ({ ...d, order: -i })) },
    options: {
      animation: false, responsive: false, events: [], devicePixelRatio: 1,
      layout: { padding: 0 },
      plugins: { legend: { display: false }, tooltip: { enabled: false } },
      scales: {
        x: { type: "linear", position: "bottom", min: R.xMin, max: R.xMax, grid: hidden, border: { display: false }, ticks: xTicks(o.padB), afterFit: fitH(box.b) },
        x2: { type: "linear", position: "top", min: R.xMin, max: R.xMax, grid: hidden, border: { display: false }, ticks: xTicks(o.padT), afterFit: fitH(box.t) },
        y: { type: "linear", position: "left", min: R.yMin, max: R.yMax, grid: hidden, border: { display: false }, ticks: yTicks(90, o.padL, o.ySizeL), afterFit: fitV(box.l) },
        y2: { type: "linear", position: "right", min: R.yMin, max: R.yMax, grid: hidden, border: { display: false }, ticks: yTicks(-90, o.padR, o.ySizeR), afterFit: fitV(box.r) },
      },
    } as any,
    plugins: [labelPlugin(labels, o.labelSize)],
  } as any);
};

const Txt = ({ x, y, s, rot = 0, bold = false, sx = 1, children }: any) => (
  <div style={{ position: "absolute", left: x, top: y, transform: `translate(-50%,-50%) rotate(${rot}deg) scaleX(${sx})`, font: `${bold ? "bold " : ""}${s}px ${FONT}`, color: "#222", whiteSpace: "nowrap", lineHeight: 1 }}>{children}</div>
);

const ColorBar = ({ x, y, w, h, labels, label, ly, s }: any) => {
  const cell = w / legendColors.length;
  return (
    <>
      <div style={{ position: "absolute", left: x, top: y, width: w, height: h, display: "flex", boxSizing: "border-box", outline: "1px solid #555" }}>
        {legendColors.map((c: string, i: number) => (
          <div key={i} style={{ flex: 1, background: c, boxSizing: "border-box", borderRight: i % 4 === 3 && i < 20 ? "1px solid #333" : "none" }} />
        ))}
      </div>
      {labels.map((t: string, i: number) => (
        <Txt key={t} x={x + (label ? label[i] : (i < 6 ? i * 4 : 25)) * cell} y={ly} s={s}>{t}</Txt>
      ))}
    </>
  );
};

const ScaleBar = ({ x, y, w, h }: any) => {
  const half = w / 2, c = half / 5;
  const cells: any[] = [];
  for (let i = 0; i < 5; i++) {
    cells.push(<div key={"t" + i} style={{ position: "absolute", left: i * c, top: 0, width: c, height: h / 2, background: i % 2 ? "#000" : "#fff" }} />);
    cells.push(<div key={"b" + i} style={{ position: "absolute", left: i * c, top: h / 2, width: c, height: h / 2, background: i % 2 ? "#fff" : "#000" }} />);
  }
  return (
    <div style={{ position: "absolute", left: x, top: y, width: w, height: h, outline: "1px solid #333", background: "#fff" }}>
      {cells}
      <div style={{ position: "absolute", left: half, top: 0, width: half, height: h / 2, background: "#000" }} />
    </div>
  );
};

export default function App() {
  const a = useRef<HTMLCanvasElement>(null);
  const b = useRef<HTMLCanvasElement>(null);
  useEffect(() => {
    const ca = build(a.current!, datasetsA(), rangeA, depthTicksA, { l: 18, r: 40, t: 22, b: 28 }, labelsA, { xSize: 14, ySizeL: 14, ySizeR: 12, padT: 0, padB: 1, padL: -7, padR: -5, labelSize: 14.5 });
    const cb = build(b.current!, datasetsB(), rangeB, depthTicksB, { l: 39, r: 25, t: 27, b: 31 }, labelsB, { xSize: 13.5, ySizeL: 14, ySizeR: 14, padT: 1, padB: 0, padL: -7, padR: -7, labelSize: 15 });
    return () => { ca.destroy(); cb.destroy(); };
  }, []);
  const soft = "blur(0.35px)";
  return (
    <div style={{ position: "fixed", left: 0, top: 0, width: 1407, height: 491, background: "#fff", overflow: "hidden" }}>
      <canvas ref={a} width={700} height={400} style={{ position: "absolute", left: 0, top: 30, width: 700, height: 400, filter: soft }} />
      <canvas ref={b} width={707} height={390} style={{ position: "absolute", left: 700, top: 30, width: 707, height: 390, filter: soft }} />
      <Txt x={23} y={17} s={15}>a)</Txt>
      <Txt x={751} y={25} s={17}>b)</Txt>
      <Txt x={351} y={16} s={20}>distância [m]</Txt>
      <Txt x={1085} y={17} s={20}>distância [m]</Txt>
      <Txt x={691} y={207} s={20} rot={90}>profundidade [m]</Txt>
      <Txt x={148.5} y={438} s={17.5}>Escala 1:1500</Txt>
      <Txt x={89} y={451} s={16.5}>25</Txt>
      <Txt x={150} y={451} s={16.5}>0</Txt>
      <Txt x={209} y={451} s={16.5}>25</Txt>
      <ScaleBar x={89} y={458} w={121} h={6} />
      <Txt x={148} y={469} s={17}>metros</Txt>
      <Txt x={901} y={438} s={16}>Escala 1:1500</Txt>
      <Txt x={832} y={460} s={10.5}>25</Txt>
      <Txt x={902} y={460} s={10.5}>0</Txt>
      <Txt x={970} y={460} s={10.5}>25</Txt>
      <ScaleBar x={832} y={467} w={138} h={9} />
      <Txt x={901} y={486.5} s={10}>metros</Txt>
      <Txt x={437} y={442.5} s={20}>log Resistividade [Ohms.m]</Txt>
      <ColorBar x={294} y={469} w={286.7} h={9} labels={legendLabelsA} ly={461.5} s={13} />
      <Txt x={1174.5} y={440.5} s={19} bold sx={0.935}>log Resistividade [Ohms.m]</Txt>
      <ColorBar x={1067.3} y={471} w={216} h={12} labels={legendLabelsB} label={[0, 4, 8, 12, 15.2, 19.3, 25]} ly={461.3} s={12} />
    </div>
  );
}
